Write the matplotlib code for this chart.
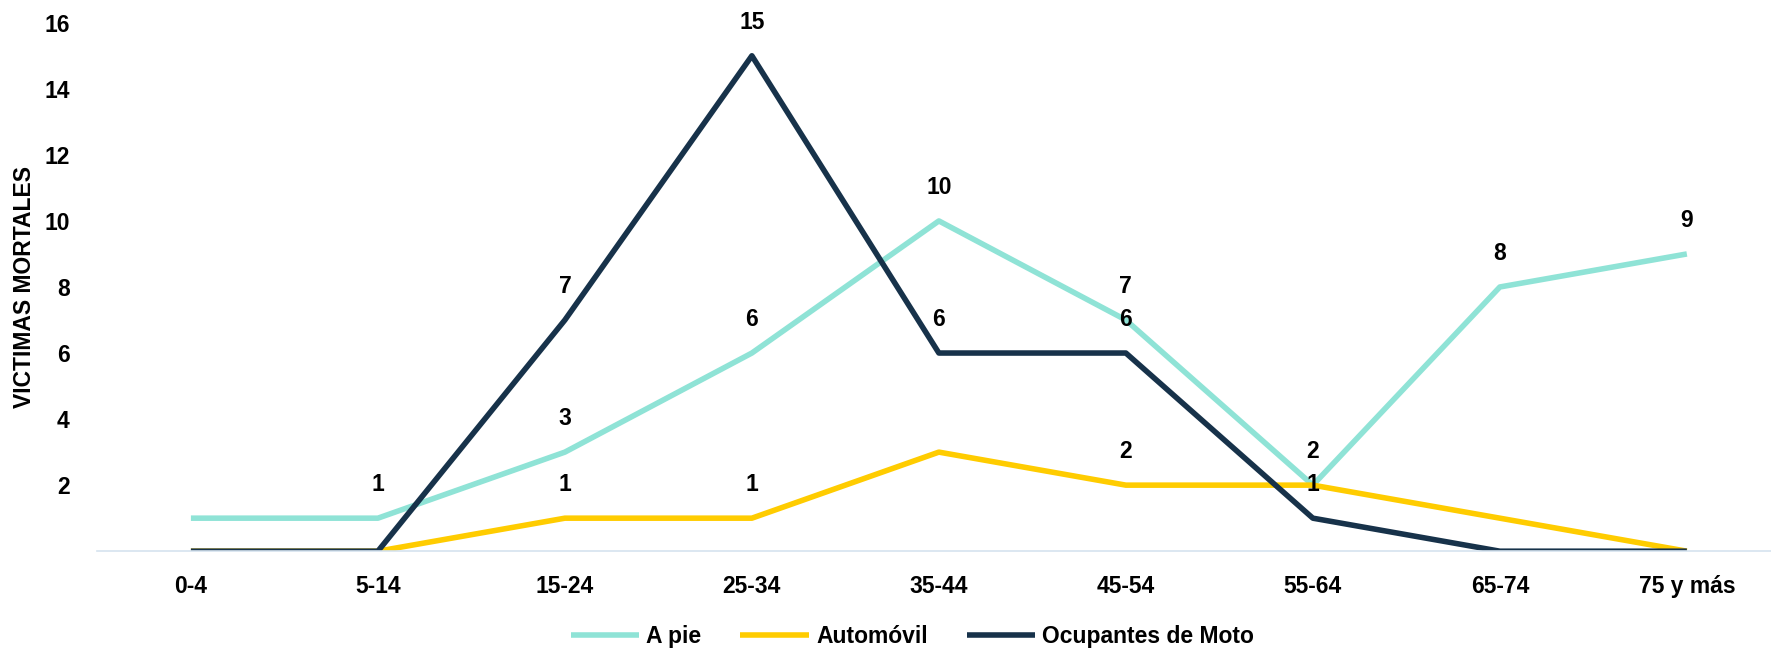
import matplotlib
matplotlib.use("Agg")
import matplotlib.pyplot as plt

# Data
age_groups = ["0-4", "5-14", "15-24", "25-34", "35-44", "45-54", "55-64", "65-74", "75 y más"]
a_pie = [1, 1, 3, 6, 10, 7, 2, 8, 9]
automovil = [0, 0, 1, 1, 3, 2, 2, 1, 0]
moto = [0, 0, 7, 15, 6, 6, 1, 0, 0]

# which points carry a value label in the original
a_pie_labels = [1, 2, 3, 4, 5, 6, 7, 8]
automovil_labels = [2, 3, 5]
moto_labels = [2, 3, 4, 5, 6]

yticks = [2, 4, 6, 8, 10, 12, 14, 16]

plt.rcParams['font.family'] = ['Liberation Sans', 'DejaVu Sans']
plt.rcParams['font.weight'] = 'bold'

fs = 16.5

fig = plt.figure(figsize=(17.71, 6.5), dpi=100)
ax = fig.add_axes([0.055, 0.152, 0.945, 0.813])

series = [
    ("A pie", a_pie, "#8FE3D6", a_pie_labels),
    ("Automóvil", automovil, "#FFCC00", automovil_labels),
    ("Ocupantes de Moto", moto, "#17324A", moto_labels),
]

x = list(range(len(age_groups)))
for name, values, color, lab_idx in series:
    ax.plot(x, values, color=color, linewidth=4, label=name, solid_capstyle='butt')
    for i in lab_idx:
        ax.annotate(str(values[i]), (x[i], values[i]), xytext=(0, 24),
                    textcoords='offset points', ha='center', va='center',
                    fontsize=fs, fontweight='bold', color='black')

ax.set_xlim(-0.5, 8.45)
ax.set_ylim(0, 16)
ax.set_xticks(x)
ax.set_xticklabels(age_groups)
ax.set_yticks(yticks)
ax.tick_params(axis='both', length=0, labelsize=fs)
ax.tick_params(axis='y', pad=20)
ax.tick_params(axis='x', pad=17)
for lbl in ax.get_xticklabels() + ax.get_yticklabels():
    lbl.set_fontweight('bold')

for side in ['top', 'right', 'left']:
    ax.spines[side].set_visible(False)
ax.spines['bottom'].set_color('#D5E3EF')
ax.spines['bottom'].set_linewidth(1.2)

ax.set_ylabel("VICTIMAS MORTALES", fontsize=fs, fontweight='bold', labelpad=6)

ax.legend(loc='center', bbox_to_anchor=(0.487, -0.161), ncol=3, frameon=False,
          handlelength=3.0, handletextpad=0.3, columnspacing=1.7,
          prop={'weight': 'bold', 'size': fs})

fig.savefig("out.png", dpi=100)
